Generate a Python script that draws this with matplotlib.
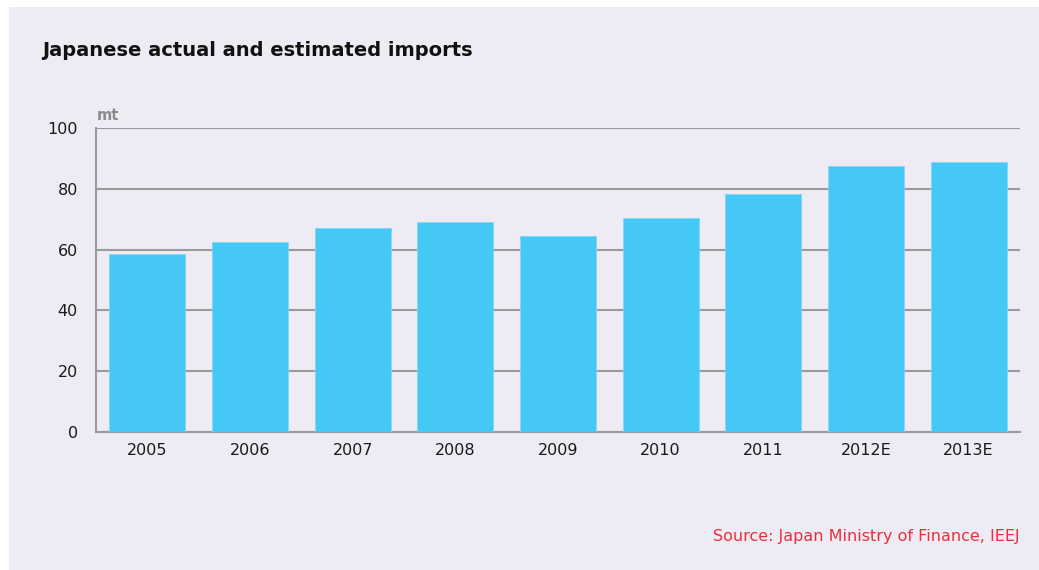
import matplotlib.pyplot as plt
from matplotlib.patches import Rectangle

# datos
years = ['2005', '2006', '2007', '2008', '2009', '2010', '2011', '2012E', '2013E']
imports = [58.6, 62.5, 67.1, 69.1, 64.5, 70.4, 78.3, 87.5, 88.8]

bg = '#eeebf5'
bar_color = '#45c8f5'
grid_color = '#9a9a9a'

fig = plt.figure(figsize=(10.39, 5.70), dpi=100, facecolor='white')
# panel de fondo lila
fig.patches.append(Rectangle((9 / 1039, 0), 1, 1 - 7 / 570, transform=fig.transFigure,
                             facecolor=bg, edgecolor='none', zorder=-10))

ax = fig.add_axes([96 / 1039, 1 - 432 / 570, 924 / 1039, 304 / 570])
ax.set_facecolor(bg)
ax.patch.set_alpha(0)

ax.bar(range(len(years)), imports, width=0.74, color=bar_color, zorder=3,
       edgecolor='#7fd8f7', linewidth=0.6)

ax.set_xlim(-0.5, len(years) - 0.5)
ax.set_ylim(0, 100)
ax.set_yticks([0, 20, 40, 60, 80, 100])
ax.set_xticks(range(len(years)))
ax.set_xticklabels(years)

ax.yaxis.grid(True, color=grid_color, linewidth=1.5, zorder=0)
ax.set_axisbelow(True)

for s in ['top', 'right']:
    ax.spines[s].set_visible(False)
for s in ['left', 'bottom']:
    ax.spines[s].set_color(grid_color)
    ax.spines[s].set_linewidth(1.5)

ax.tick_params(axis='both', length=0, labelsize=11.5, colors='#1a1a1a')
ax.tick_params(axis='y', pad=13)
ax.tick_params(axis='x', pad=8)

fig.text(42 / 1039, 1 - 50 / 570, 'Japanese actual and estimated imports',
         fontsize=14, fontweight='bold', color='#111111', va='center', ha='left')
fig.text(97 / 1039, 1 - 115 / 570, 'mt', fontsize=10.5, fontweight='bold',
         color='#8c8c8c', va='center', ha='left')
fig.text(1020 / 1039, 1 - 537 / 570, 'Source: Japan Ministry of Finance, IEEJ',
         fontsize=11.5, color='#e8303a', va='center', ha='right')

fig.savefig('out.png', dpi=100, facecolor='white')
